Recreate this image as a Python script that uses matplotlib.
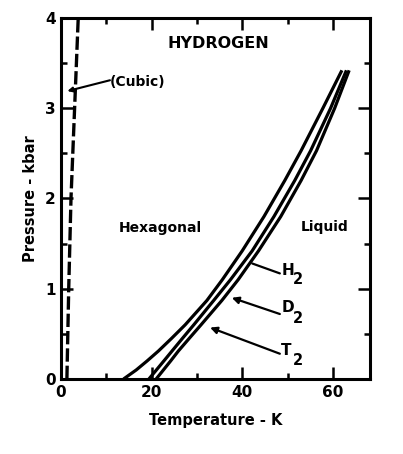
import numpy as np
import matplotlib
matplotlib.use("Agg")
import matplotlib.pyplot as plt
from matplotlib.ticker import MultipleLocator

plt.rcParams["font.family"] = "DejaVu Sans"
plt.rcParams["font.weight"] = "bold"

# Curvas de fusión (T en K, P en kbar)
presion = [0, 0.1, 0.2, 0.31, 0.45, 0.6, 0.87, 1.1, 1.42, 1.8, 2.2, 2.53, 3.0, 3.42]
temp_h2 = [13.8, 16.6, 19.0, 21.5, 24.4, 27.4, 32.2, 35.6, 40.0, 44.8, 49.4, 53.0, 57.8, 62.0]
temp_d2 = [19.4, 21.05, 22.7, 24.5, 26.8, 29.3, 33.7, 37.4, 42.2, 47.0, 51.6, 55.1, 59.5, 63.0]
temp_t2 = [21.0, 22.6, 24.2, 25.9, 28.3, 30.9, 35.5, 39.1, 43.6, 48.5, 53.0, 56.4, 60.4, 63.6]

# Frontera hexagonal / cúbica (discontinua)
presion_cub = [0, 1, 2, 3, 4]
temp_cub = [1.3, 1.7, 2.2, 3.0, 3.8]

fig = plt.figure(figsize=(4.03, 4.54), dpi=100)
ax = fig.add_axes([0.1514, 0.1652, 0.7667, 0.7952])

lw = 2.3
ax.plot(temp_h2, presion, color="black", lw=lw, solid_capstyle="butt")
ax.plot(temp_d2, presion, color="black", lw=lw, solid_capstyle="butt")
ax.plot(temp_t2, presion, color="black", lw=lw, solid_capstyle="butt")
ax.plot(temp_cub, presion_cub, color="black", lw=2.4, dashes=(4, 1.2))

ax.set_xlim(0, 68.2)
ax.set_ylim(0, 4)
ax.xaxis.set_major_locator(MultipleLocator(20))
ax.xaxis.set_minor_locator(MultipleLocator(10))
ax.yaxis.set_major_locator(MultipleLocator(1))
ax.yaxis.set_minor_locator(MultipleLocator(0.5))
ax.tick_params(which="both", direction="in", top=True, right=True, width=1.8,
               labelsize=11, pad=4)
ax.tick_params(which="major", length=8.5)
ax.tick_params(which="minor", length=4.5)
for s in ax.spines.values():
    s.set_linewidth(2.2)
for lab in ax.get_xticklabels() + ax.get_yticklabels():
    lab.set_fontweight("bold")

ax.set_xlabel("Temperature - K", fontsize=10.5, fontweight="bold", labelpad=10)
ax.set_ylabel("Pressure - kbar", fontsize=10.5, fontweight="bold", labelpad=5)

ax.text(34.7, 3.72, "HYDROGEN", ha="center", va="center", fontsize=11.5, fontweight="bold")
ax.text(21.9, 1.67, "Hexagonal", ha="center", va="center", fontsize=10, fontweight="bold")
ax.text(58.1, 1.68, "Liquid", ha="center", va="center", fontsize=10, fontweight="bold")
ax.text(10.8, 3.29, "(Cubic)", ha="left", va="center", fontsize=10, fontweight="bold")
ax.annotate("", xy=(1.4, 3.19), xytext=(10.8, 3.31),
            arrowprops=dict(arrowstyle="-|>", lw=1.5, color="black", mutation_scale=7,
                            shrinkA=0, shrinkB=0))

# etiquetas H2, D2, T2 con sus flechas
etiquetas = [("H", 1.20, 1.10, (42.2, 1.28), (48.3, 1.17), "-"),
             ("D", 0.79, 0.67, (37.7, 0.90), (48.3, 0.72), "-|>"),
             ("T", 0.32, 0.21, (32.9, 0.57), (48.3, 0.28), "-|>")]
for letra, y_l, y_sub, punta, origen, estilo in etiquetas:
    ax.text(48.6, y_l, letra, ha="left", va="center", fontsize=11, fontweight="bold")
    ax.text(51.1, y_sub, "2", ha="left", va="center", fontsize=10.5, fontweight="bold")
    ax.annotate("", xy=punta, xytext=origen,
                arrowprops=dict(arrowstyle=estilo, lw=1.6, color="black",
                                mutation_scale=10, shrinkA=0, shrinkB=0))

fig.savefig("out.png", dpi=100)
